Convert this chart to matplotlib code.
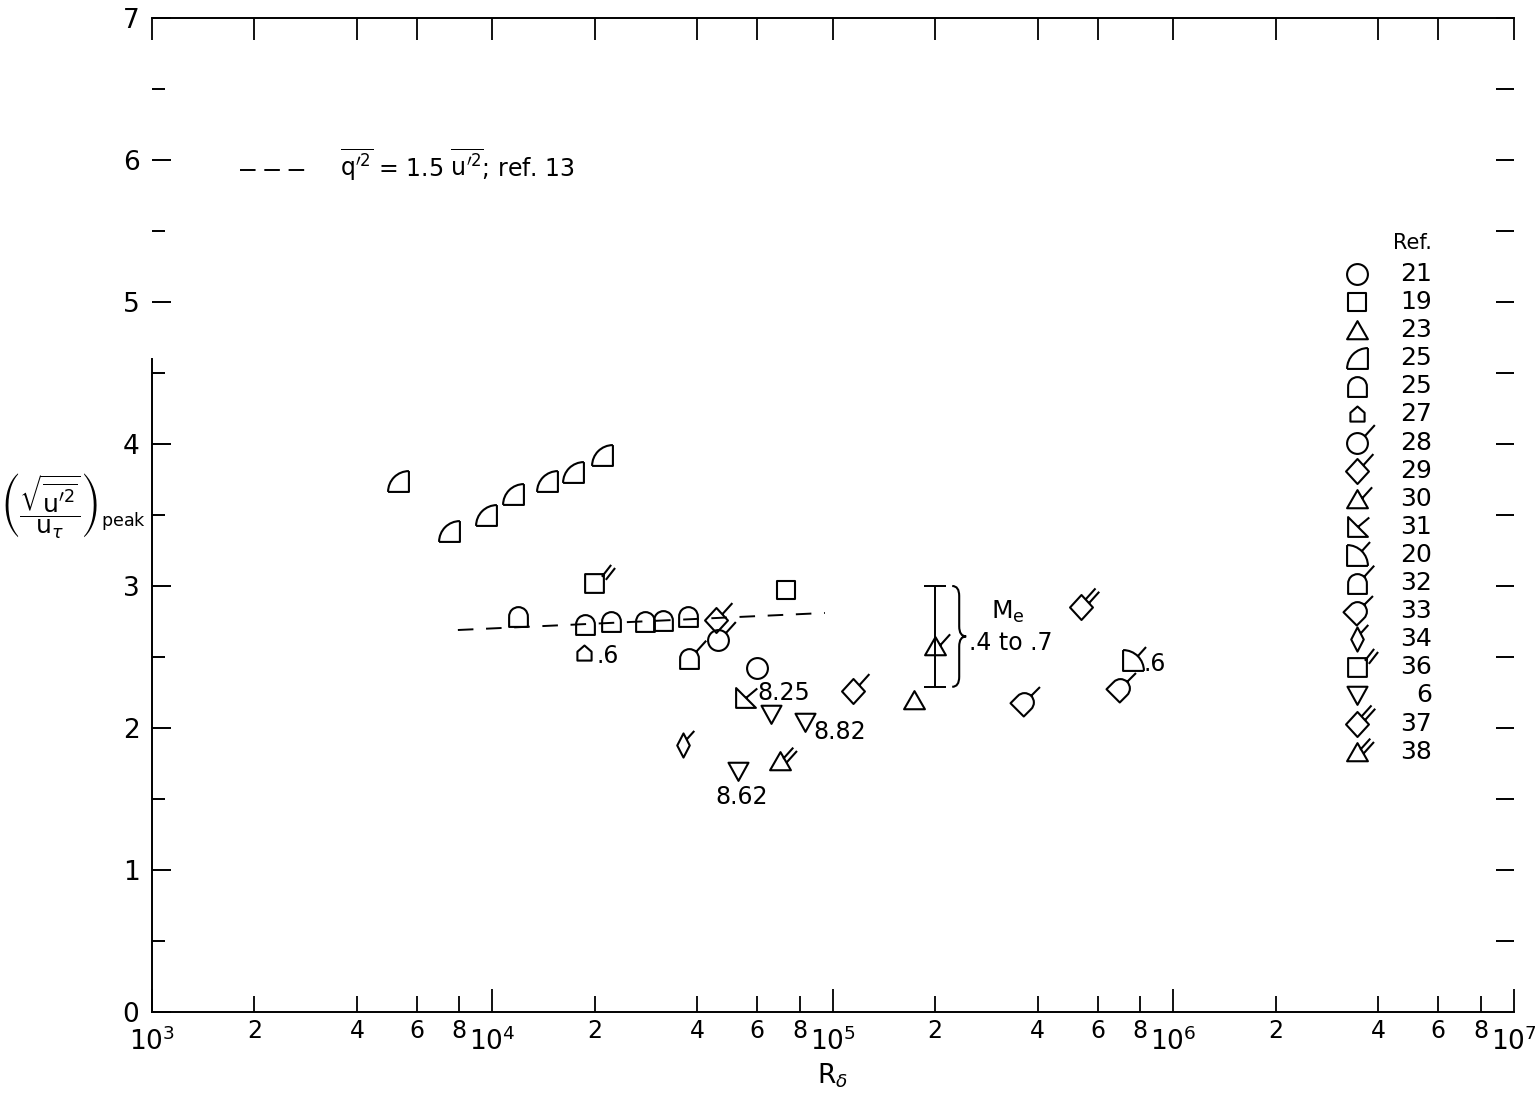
import numpy as np
import matplotlib
matplotlib.use('Agg')
import matplotlib.pyplot as plt
from matplotlib.path import Path
from matplotlib.patches import PathPatch
from matplotlib.transforms import Affine2D, IdentityTransform
from matplotlib.ticker import NullFormatter, FixedLocator

plt.rcParams['font.family'] = ['DejaVu Sans']
plt.rcParams['mathtext.fontset'] = 'dejavusans'

# values: R_delta and peak of sqrt(u'^2)/u_tau
ref21_x = [5.98e4]
ref21_y = [2.42]
ref19_x = [7.28e4]
ref19_y = [2.97]
ref23_x = [1.73e5]
ref23_y = [2.20]
ref25a_x = [5.27e3, 7.45e3, 9.57e3, 1.148e4, 1.445e4, 1.722e4, 2.099e4]
ref25a_y = [3.74, 3.39, 3.50, 3.65, 3.74, 3.80, 3.92]
ref25b_x = [1.189e4, 1.87e4, 2.228e4, 2.805e4, 3.17e4, 3.75e4]
ref25b_y = [2.79, 2.73, 2.75, 2.75, 2.76, 2.79]
ref27_x = [1.86e4]
ref27_y = [2.53]
ref28_x = [4.59e4]
ref28_y = [2.62]
ref29_x = [4.53e4, 1.15e5]
ref29_y = [2.76, 2.26]
ref30_x = [2.0e5]
ref30_y = [2.58]
ref30_lo = [2.29]
ref30_hi = [3.00]
ref31_x = [5.52e4]
ref31_y = [2.21]
ref20_x = [7.60e5]
ref20_y = [2.48]
ref32_x = [3.78e4]
ref32_y = [2.49]
ref33_x = [3.64e5, 6.97e5]
ref33_y = [2.18, 2.28]
ref34_x = [3.62e4]
ref34_y = [1.88]
ref36_x = [1.986e4]
ref36_y = [3.02]
ref6_x = [6.58e4, 8.28e4, 5.26e4]
ref6_y = [2.10, 2.04, 1.70]
ref37_x = [5.35e5]
ref37_y = [2.85]
ref38_x = [6.98e4]
ref38_y = [1.77]

# q'^2 = 1.5 u'^2, ref. 13
line13_x = [7.92e3, 9.48e4]
line13_y = [2.69, 2.81]

# Mach number notes next to some points: (x, y, text)
mach_notes = [(ref27_x[0], ref27_y[0], '.6'),
              (ref31_x[0], ref31_y[0], '8.25'),
              (ref6_x[1], ref6_y[1], '8.82'),
              (ref6_x[2], ref6_y[2], '8.62'),
              (ref20_x[0], ref20_y[0], '.6')]

BASE = 15.0   # marker body size in points
LW = 1.5
M, L, C3, CL = Path.MOVETO, Path.LINETO, Path.CURVE3, Path.CLOSEPOLY


def poly(pts, closed=True):
    pts = list(pts)
    if closed:
        return Path(pts + [pts[0]], [M] + [L] * (len(pts) - 1) + [CL])
    return Path(pts, [M] + [L] * (len(pts) - 1))


def arc(cx, cy, r, a1, a2):
    p = Path.arc(a1, a2)
    return p.transformed(Affine2D().scale(r).translate(cx, cy))


def ticks(p, n, ang=48, length=0.72, gap=0.24):
    d = np.array([np.cos(np.radians(ang)), np.sin(np.radians(ang))])
    nrm = np.array([-d[1], d[0]])
    offs = [0.0] if n == 1 else [-gap / 2, gap / 2]
    out = []
    for o in offs:
        a = np.array(p) + o * nrm
        out.append(Path([a, a + length * d], [M, L]))
    return out


def compound(*paths):
    return Path.make_compound_path(*paths)


circle = Path.circle((0, 0), 0.5)
square = poly([(-0.45, -0.45), (0.45, -0.45), (0.45, 0.45), (-0.45, 0.45)])
tri_up = poly([(-0.5, -0.42), (0.5, -0.42), (0, 0.45)])
tri_dn = poly([(-0.48, 0.42), (0.48, 0.42), (0, -0.45)])
diamond = poly([(0, 0.6), (0.55, 0), (0, -0.6), (-0.55, 0)])
thin_dia = poly([(0, 0.58), (0.3, 0), (0, -0.58), (-0.3, 0)])
quarter = compound(poly([(-0.5, -0.5), (0.5, -0.5), (0.5, 0.5)], closed=False),
                   arc(0.5, -0.5, 1.0, 90, 180))
arch = compound(poly([(-0.45, 0), (-0.45, -0.5), (0.45, -0.5), (0.45, 0)], closed=False),
                arc(0, 0, 0.45, 0, 180))
house = poly([(-0.4, -0.4), (0.4, -0.4), (0.4, 0.1), (0, 0.45), (-0.4, 0.1)])
wedge31 = poly([(-0.45, 0.5), (-0.45, -0.45), (0.5, -0.45)])
quarter20 = compound(poly([(-0.5, 0.5), (-0.5, -0.5), (0.5, -0.5)], closed=False),
                     arc(-0.5, -0.5, 1.0, 0, 90))
arch_rot = arch.transformed(Affine2D().rotate_deg(-45))
top_rot = Affine2D().rotate_deg(-45).transform((0, 0.45))

shapes = {
    'circle': circle,
    'square': square,
    'tri': tri_up,
    'quarter': quarter,
    'arch': arch,
    'house': house.transformed(Affine2D().scale(0.85)),
    'circ_t': compound(circle, *ticks((0.35, 0.35), 1)),
    'dia_t': compound(diamond, *ticks((0.28, 0.3), 1)),
    'tri_t': compound(tri_up, *ticks((0.22, 0.05), 1)),
    'wedge_t': compound(wedge31, *ticks((0.03, 0.03), 1, ang=40, length=0.7)),
    'q20_t': compound(quarter20, *ticks((0.2, 0.2), 1, length=0.6)),
    'arch_t': compound(arch, *ticks((0.32, 0.32), 1)),
    'archr_t': compound(arch_rot, *ticks(top_rot, 1, ang=45, length=0.6)),
    'thin_t': compound(thin_dia, *ticks((0.15, 0.29), 1, length=0.55)),
    'sq_tt': compound(square, *ticks((0.45, 0.25), 2, ang=52)),
    'tri_dn': tri_dn,
    'dia_tt': compound(diamond, *ticks((0.28, 0.3), 2)),
    'tri_tt': compound(tri_up, *ticks((0.22, 0.05), 2)),
}


def msize(path):
    # matplotlib normalises custom markers to their largest coordinate
    return BASE * np.max(np.abs(path.vertices)) / 0.5


series = [
    ('21', 'circle', ref21_x, ref21_y),
    ('19', 'square', ref19_x, ref19_y),
    ('23', 'tri', ref23_x, ref23_y),
    ('25', 'quarter', ref25a_x, ref25a_y),
    ('25', 'arch', ref25b_x, ref25b_y),
    ('27', 'house', ref27_x, ref27_y),
    ('28', 'circ_t', ref28_x, ref28_y),
    ('29', 'dia_t', ref29_x, ref29_y),
    ('30', 'tri_t', ref30_x, ref30_y),
    ('31', 'wedge_t', ref31_x, ref31_y),
    ('20', 'q20_t', ref20_x, ref20_y),
    ('32', 'arch_t', ref32_x, ref32_y),
    ('33', 'archr_t', ref33_x, ref33_y),
    ('34', 'thin_t', ref34_x, ref34_y),
    ('36', 'sq_tt', ref36_x, ref36_y),
    ('6', 'tri_dn', ref6_x, ref6_y),
    ('37', 'dia_tt', ref37_x, ref37_y),
    ('38', 'tri_tt', ref38_x, ref38_y),
]

fig = plt.figure(figsize=(15.35, 11.10), dpi=100)
ax = fig.add_axes([0.0990, 0.0883, 0.8870, 0.8955])
ax.set_xscale('log')
ax.set_xlim(1e3, 1e7)
ax.set_ylim(0, 7)

ax.plot(line13_x, line13_y, color='k', lw=1.4, dashes=(8, 6.5))

ax.errorbar(ref30_x, ref30_y,
            yerr=[np.subtract(ref30_y, ref30_lo), np.subtract(ref30_hi, ref30_y)],
            fmt='none', ecolor='k', elinewidth=1.4, capsize=8, capthick=1.4)

for lab, key, xs, ys in series:
    p = shapes[key]
    ax.plot(xs, ys, ls='none', marker=p, ms=msize(p), mfc='none', mec='k', mew=LW,
            clip_on=False)

# annotations with Mach numbers
offsets = [(9, -2, 'left'), (9, 4, 'left'), (6, -7, 'left'), (3, -19, 'center'), (8, -3, 'left')]
for (x, y, t), (dx, dy, ha) in zip(mach_notes, offsets):
    ax.annotate(t, (x, y), xytext=(dx, dy), textcoords='offset points',
                ha=ha, va='center', fontsize=17)

ax.annotate(r'M$_\mathrm{e}$', (ref30_x[0], ref30_y[0]), xytext=(52, 24),
            textcoords='offset points', ha='center', va='center', fontsize=18)
ax.annotate('.4 to .7', (ref30_x[0], ref30_y[0]), xytext=(24, 2), textcoords='offset points',
            ha='left', va='center', fontsize=17)

# curly brace next to the error bar (drawn in pixels)
xb, ylo = ax.transData.transform((ref30_x[0], ref30_lo[0]))
_, yhi = ax.transData.transform((ref30_x[0], ref30_hi[0]))
xb += 17
ym = (ylo + yhi) / 2
w, r = 7, 10
bverts = [(xb, yhi), (xb + w, yhi), (xb + w, yhi - r), (xb + w, ym + r),
          (xb + w, ym), (xb + 2 * w, ym), (xb + w, ym), (xb + w, ym - r),
          (xb + w, ylo + r), (xb + w, ylo), (xb, ylo)]
bcodes = [M, C3, C3, L, C3, C3, C3, C3, L, C3, C3]
ax.add_patch(PathPatch(Path(bverts, bcodes), fill=False, lw=1.5, ec='k',
                       transform=IdentityTransform(), clip_on=False))

# legend for the dashed line
ax.plot([0.0646, 0.1124], [0.847, 0.847], transform=ax.transAxes, color='k',
        lw=1.4, dashes=(8, 4.5))
ax.text(0.138, 0.852,
        r"$\overline{\mathrm{q}^{\prime 2}}$ = 1.5 $\overline{\mathrm{u}^{\prime 2}}$; ref. 13",
        transform=ax.transAxes, fontsize=17, va='center', ha='left')

# symbol legend
ax.text(0.940, 0.7736, 'Ref.', transform=ax.transAxes, fontsize=15, ha='right', va='center')
for i, (lab, key, xs, ys) in enumerate(series):
    yy = 0.7425 - i * 0.02827
    p = shapes[key]
    ax.plot([0.885], [yy], transform=ax.transAxes, ls='none', marker=p, ms=msize(p),
            mfc='none', mec='k', mew=LW, clip_on=False)
    ax.text(0.940, yy, lab, transform=ax.transAxes, fontsize=18, ha='right', va='center')

# axes styling
for s in ['left', 'bottom', 'top']:
    ax.spines[s].set_linewidth(1.4)
ax.spines['right'].set_visible(False)
ax.spines['left'].set_bounds(0, 4.6)

decades = [1e3, 1e4, 1e5, 1e6, 1e7]
minors = [m * d for d in decades[:-1] for m in (2, 4, 6, 8)]
ax.xaxis.set_major_locator(FixedLocator(decades))
ax.set_xticklabels([r'$10^{%d}$' % k for k in range(3, 8)])
ax.set_xticks(minors, labels=[str(int(round(m / 10 ** np.floor(np.log10(m))))) for m in minors],
              minor=True)
ax.tick_params(axis='x', which='major', direction='in', length=16.5, width=1.3,
               labelsize=19, pad=11, top=False)
ax.tick_params(axis='x', which='minor', direction='in', length=11.5, width=1.3,
               labelsize=17, pad=5, top=False)

ax.set_yticks(range(8))
ax.set_yticks(np.arange(0.5, 7, 1.0), minor=True)
ax.yaxis.set_minor_formatter(NullFormatter())
ax.tick_params(axis='y', which='major', direction='in', length=14, width=1.4,
               labelsize=19, pad=9, right=False)
ax.tick_params(axis='y', which='minor', direction='in', length=9, width=1.4, right=False)

topax = ax.secondary_xaxis('top')
topax.set_xticks([m * d for d in decades[:-1] for m in (1, 2, 4, 6)] + [1e7])
topax.set_xticks([], minor=True)
topax.xaxis.set_major_formatter(NullFormatter())
topax.tick_params(direction='in', length=16, width=1.3)
topax.spines['top'].set_visible(False)

rightax = ax.secondary_yaxis('right')
rightax.set_yticks(np.arange(0.5, 7.01, 0.5))
rightax.yaxis.set_major_formatter(NullFormatter())
rightax.tick_params(direction='in', length=13, width=1.4)
rightax.spines['right'].set_visible(False)

ax.set_xlabel(r'$\mathrm{R}_{\delta}$', fontsize=19, labelpad=4)
ax.text(-0.058, 0.51,
        r'$\left(\dfrac{\sqrt{\overline{\mathrm{u}^{\prime 2}}}}{\mathrm{u}_{\tau}}\right)_{\mathrm{peak}}$',
        transform=ax.transAxes, fontsize=18, ha='center', va='center')

fig.savefig('out.png', dpi=100)
